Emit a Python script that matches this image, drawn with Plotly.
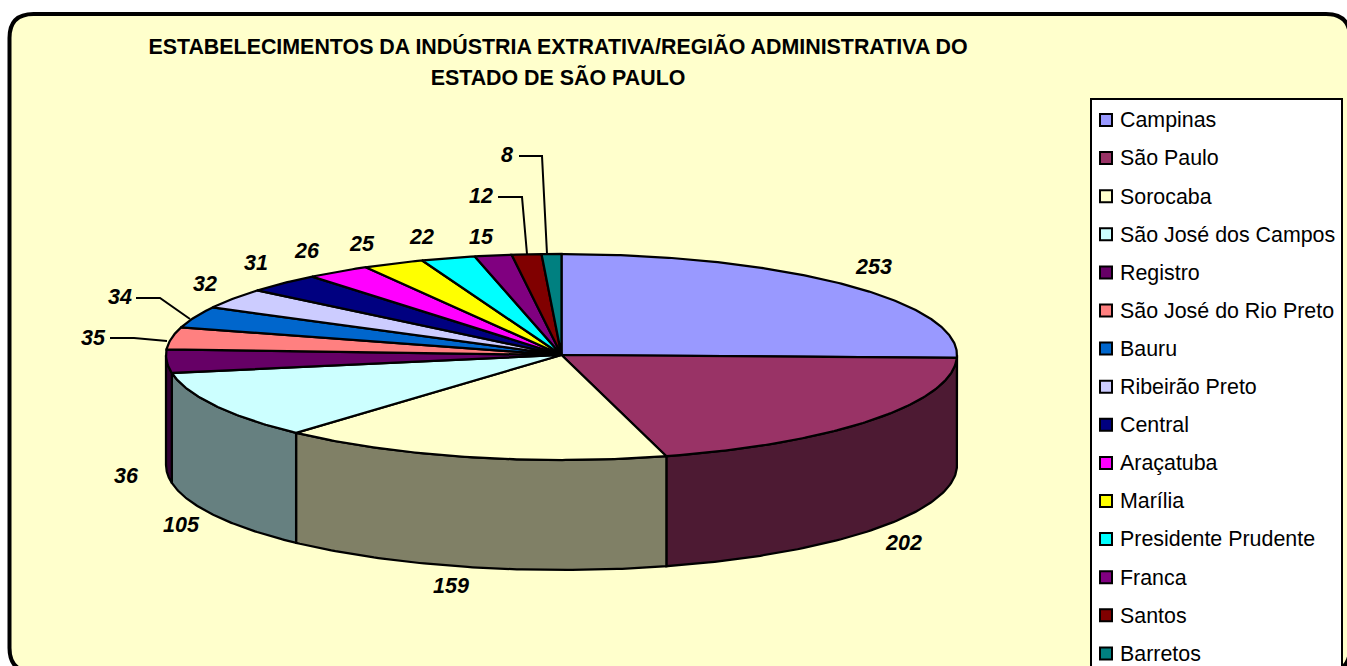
import numpy as np
import plotly.graph_objects as go

TITLE_LINES = ["ESTABELECIMENTOS DA INDÚSTRIA EXTRATIVA/REGIÃO ADMINISTRATIVA DO", "ESTADO DE SÃO PAULO"]
regions = ["Campinas", "São Paulo", "Sorocaba", "São José dos Campos", "Registro",
           "São José do Rio Preto", "Bauru", "Ribeirão Preto", "Central", "Araçatuba",
           "Marília", "Presidente Prudente", "Franca", "Santos", "Barretos"]
establishments = [253, 202, 159, 105, 36, 35, 34, 32, 31, 26, 25, 22, 15, 12, 8]
top_colors = ["#9999FF", "#993366", "#FFFFCC", "#CCFFFF", "#660066", "#FF8080", "#0066CC", "#CCCCFF",
              "#000080", "#FF00FF", "#FFFF00", "#00FFFF", "#800080", "#800000", "#008080"]
side_colors = ["#4D4D80", "#4D1A33", "#808066", "#668080", "#330033", "#804040", "#003366", "#666680",
               "#000040", "#800080", "#808000", "#008080", "#400040", "#400000", "#004040"]
label_positions = [(874, 269), (904, 545), (451, 588), (181, 527), (126, 478), (93, 340), (120, 299),
                   (205, 286), (256, 265), (307, 253), (362, 246), (422, 239), (481, 239), (481, 198), (507, 157)]
leaders = {5: [(110, 338), (134, 338), (167, 341)], 6: [(136, 298), (160, 298), (190, 319)],
           13: [(498, 197), (522, 197), (527, 254)], 14: [(519, 156), (542, 156), (547, 254)]}

CX, CY, RX, RY_BACK, RY_FRONT, DEPTH = 561.5, 355, 395.5, 101, 105, 110
W, H = 1347, 666
FONT = "Liberation Sans, Arial, sans-serif"
EDGE = dict(color="black", width=2.25)


def ellipse(deg, dy=0.0):
    t = np.radians(deg)
    c = np.cos(t)
    ry = np.where(c >= 0, RY_BACK, RY_FRONT)
    return CX + RX * np.sin(t), CY - ry * c + dy


edges = np.concatenate([[0], np.cumsum(establishments)]) / sum(establishments) * 360
fig = go.Figure()

for i, (a0, a1) in enumerate(zip(edges[:-1], edges[1:])):
    lo, hi = max(a0, 90), min(a1, 270)
    if hi > lo:
        d = np.linspace(lo, hi, 80)
        xt, yt = ellipse(d)
        xb, yb = ellipse(d[::-1], DEPTH)
        fig.add_trace(go.Scatter(x=np.r_[xt, xb, xt[0]], y=np.r_[yt, yb, yt[0]], mode="lines", fill="toself",
                                 fillcolor=side_colors[i], line=EDGE, hoverinfo="skip"))

for i, (a0, a1) in enumerate(zip(edges[:-1], edges[1:])):
    d = np.linspace(a0, a1, max(int(a1 - a0) * 2, 8))
    xa, ya = ellipse(d)
    fig.add_trace(go.Scatter(x=np.r_[CX, xa, CX], y=np.r_[CY, ya, CY], mode="lines", fill="toself",
                             fillcolor=top_colors[i], line=EDGE,
                             name=regions[i], text=[f"{regions[i]}: {establishments[i]}"] * (len(d) + 2),
                             hoverinfo="text"))

for pts in leaders.values():
    fig.add_trace(go.Scatter(x=[p[0] for p in pts], y=[p[1] for p in pts], mode="lines",
                             line=dict(color="black", width=2), hoverinfo="skip"))

fig.add_trace(go.Scatter(x=[p[0] for p in label_positions], y=[p[1] for p in label_positions], mode="text",
                         text=[str(v) for v in establishments], textposition="middle center",
                         textfont=dict(family=FONT, size=21.5, color="black", weight="bold", style="italic"),
                         hoverinfo="skip"))

# key box: swatches and names
row_y = [120 + 38.1 * k for k in range(len(regions))]
fig.add_trace(go.Scatter(x=[1106] * len(regions), y=row_y, mode="markers",
                         marker=dict(symbol="square", size=12, color=top_colors, line=dict(color="black", width=2)),
                         hoverinfo="skip"))
fig.add_trace(go.Scatter(x=[1120] * len(regions), y=[v + 2 for v in row_y], mode="text", text=regions,
                         textposition="middle right",
                         textfont=dict(family=FONT, size=21.4, color="black"), hoverinfo="skip"))

L, T, R, B, r = 9.5, 14, 1350, 672, 24
frame = (f"M{L + r},{T} L{R - r},{T} Q{R},{T} {R},{T + r} L{R},{B - r} Q{R},{B} {R - r},{B} "
         f"L{L + r},{B} Q{L},{B} {L},{B - r} L{L},{T + r} Q{L},{T} {L + r},{T} Z")

fig.update_layout(
    width=W, height=H, margin=dict(l=0, r=0, t=0, b=0, autoexpand=False),
    paper_bgcolor="white", plot_bgcolor="rgba(0,0,0,0)", showlegend=False,
    xaxis=dict(range=[0, W], visible=False, fixedrange=True),
    yaxis=dict(range=[H, 0], visible=False, fixedrange=True),
    shapes=[
        dict(type="path", path=frame, xref="x", yref="y", fillcolor="#FFFFCC", line=dict(color="black", width=4), layer="below"),
        dict(type="rect", x0=1091, x1=1342, y0=99, y1=680, xref="x", yref="y", fillcolor="white",
             line=dict(color="black", width=2), layer="below"),
    ],
    title=dict(text="<br>".join(f'<span style="font-size:21.4px">{t}</span>' for t in TITLE_LINES),
               x=558 / W, xanchor="center", y=1 - 54 / H, yanchor="top",
               font=dict(family=FONT, size=24, color="black", weight="bold")),
)

fig.write_html("out.html", config={"displayModeBar": False},
               post_script="document.body.style.margin='0';document.body.style.overflow='hidden';")
